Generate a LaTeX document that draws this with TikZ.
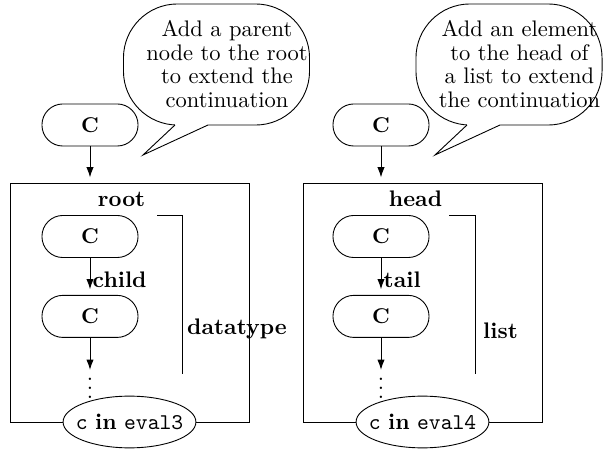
\documentclass[tikz,border=0pt]{standalone}
\usepackage{tikz}
\usetikzlibrary{shapes.geometric, arrows, arrows.meta, positioning}
\tikzstyle{cblock} = [rectangle, rounded corners=9.3pt, minimum width=42.7pt, minimum height=18.7pt, draw=black, font=\bfseries\fontsize{9.5}{10}\selectfont]
\tikzstyle{evalblock} = [ellipse, draw=black, fill=white, inner xsep=-3pt, minimum height=23pt]
\tikzstyle{bubble} = [rectangle, rounded corners=24pt, minimum width=82.7pt, minimum height=53.8pt, draw=black, fill=white]
\tikzstyle{note} = [align=center, font=\fontsize{10}{10.5}\selectfont]
\tikzstyle{lbl} = [font=\bfseries]
\tikzstyle{dots} = [anchor=south, inner sep=0pt]
\tikzstyle{arrow} = [-{Latex[length=4.5pt, width=3.2pt]}, shorten >=2.5pt]

\begin{document}
\begin{tikzpicture}[x=0.4444pt, y=-0.4444pt, node distance=16.4pt]
\useasboundingbox (0,0) rectangle (606,450);

% left: datatype
\node (lbub) [bubble] at (216.5,64.5) {};
\fill[white] (175,125) -- (143,155) -- (208,125) -- (208,122) -- (175,122) -- cycle;
\draw (175,125) -- (143,155) -- (208,125);
\node (lnote) [note] at (227,64) {Add a parent\\node to the root\\to extend the\\continuation};

\node (lc0) [cblock] at (90,125) {C};
\coordinate (ltop) at (90,183);
\node (lc1) [cblock] at (90,236.5) {C};
\node (lc2) [cblock, below=of lc1] {C};
\node (lroot) [lbl, anchor=south west] at (lc1.north) {root};
\node (ldots) [dots] at (90,399) {$\vdots$};
\node (leval) [evalblock] at (129.5,422) {\texttt{c} \textbf{in} \texttt{eval3}};

\draw (leval.west) -- (10,422) |- (249,183) -- (249,422) -- (leval.east);
\draw (157,215) -| (182,374);
\node (ltype) [lbl, anchor=west, inner sep=1pt] at (184.5,329) {datatype};

\draw [arrow] (lc0) -- (ltop);
\draw [arrow] (lc1) -- node[lbl, right, inner sep=1pt, pos=0.6] {child} (lc2);
\draw [arrow, shorten >=-2.5pt] (lc2) -- (ldots);

% right: list
\node (rbub) [bubble] at (509,64.5) {};
\fill[white] (467,125) -- (435,155) -- (500,125) -- (500,122) -- (467,122) -- cycle;
\draw (467,125) -- (435,155) -- (500,125);
\node (rnote) [note] at (519.5,64) {Add an element\\to the head of\\a list to extend\\the continuation};

\node (rc0) [cblock] at (381,125) {C};
\coordinate (rtop) at (381,183);
\node (rc1) [cblock] at (381,236.5) {C};
\node (rc2) [cblock, below=of rc1] {C};
\node (rhead) [lbl, anchor=south west] at (rc1.north) {head};
\node (rdots) [dots] at (381,399) {$\vdots$};
\node (reval) [evalblock] at (422.5,422) {\texttt{c} \textbf{in} \texttt{eval4}};

\draw (reval.west) -- (303,422) |- (542,183) -- (542,422) -- (reval.east);
\draw (449,215) -| (475,374);
\node (rtype) [lbl, anchor=west, inner sep=1pt] at (480.5,331) {list};

\draw [arrow] (rc0) -- (rtop);
\draw [arrow] (rc1) -- node[lbl, right, inner sep=1pt, pos=0.6] {tail} (rc2);
\draw [arrow, shorten >=-2.5pt] (rc2) -- (rdots);

\end{tikzpicture}
\end{document}
